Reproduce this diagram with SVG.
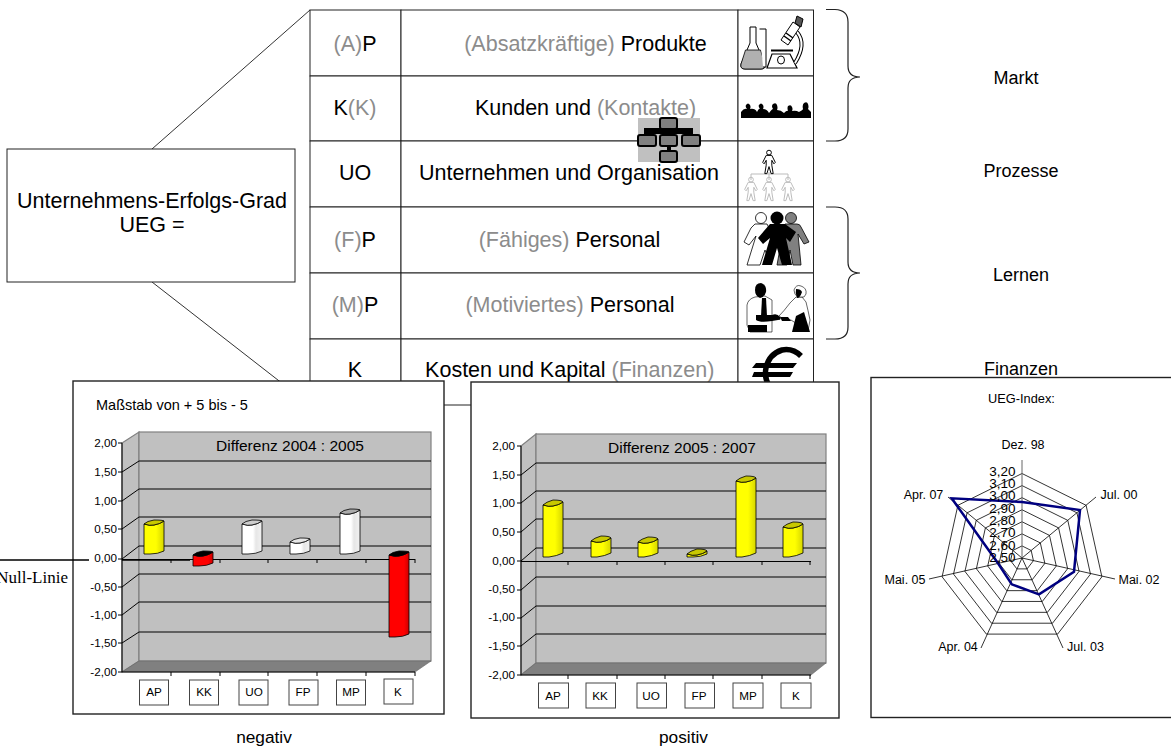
<svg xmlns="http://www.w3.org/2000/svg" xmlns:xlink="http://www.w3.org/1999/xlink" width="1171" height="747" viewBox="0 0 1171 747">
<style>
text{font-family:"Liberation Sans",Arial,sans-serif;fill:#000}
.m{text-anchor:middle}
.e{text-anchor:end}
.row{font-size:21.500px;text-anchor:middle}
.g{fill:#8c8c8c}
.side{font-size:18px;text-anchor:middle}
.cap{font-size:17.300px;text-anchor:middle}
.cell{fill:#fff;stroke:#222;stroke-width:1}
.br{fill:none;stroke:#222;stroke-width:1.2}
.frame{fill:#fff;stroke:#222;stroke-width:1.4}
.wall{fill:#c0c0c0;stroke:#808080;stroke-width:1.2}
.floor{fill:#808080;stroke:#666;stroke-width:.6}
.gl{stroke:#000;stroke-width:1;fill:none}
.ax{stroke:#000;stroke-width:1;fill:none}
.t{font-size:11.7px;text-anchor:end}
.d{font-size:15.5px;text-anchor:middle}
.lb{fill:#fff;stroke:#444;stroke-width:1}
.lt{font-size:11.7px;text-anchor:middle}
.bs{stroke:#000;stroke-width:.8}
.rad{fill:none;stroke:#000;stroke-width:.8;vector-effect:non-scaling-stroke}
.rl{font-size:12.5px;text-anchor:middle}
.rs{font-size:13.500px;text-anchor:end}
.oc{fill:#808080;stroke:#000;stroke-width:2}
</style>
<defs>
<linearGradient id="gy"><stop offset="0" stop-color="#ffff00"/><stop offset=".6" stop-color="#ffff00"/><stop offset="1" stop-color="#d6d600"/></linearGradient>
<linearGradient id="gw"><stop offset="0" stop-color="#ffffff"/><stop offset=".55" stop-color="#ffffff"/><stop offset=".7" stop-color="#e6e6e6"/><stop offset="1" stop-color="#f2f2f2"/></linearGradient>
<linearGradient id="gr"><stop offset="0" stop-color="#ff0000"/><stop offset=".75" stop-color="#ff0000"/><stop offset="1" stop-color="#cc0000"/></linearGradient>
<polygon id="ring" class="rad" points="0,-84.5 64.1,-52.7 79.9,18.8 35.6,76.1 -35.6,76.1 -79.9,18.8 -64.1,-52.7"/>
<g id="person"><circle cx="0" cy="-6" r="1.7" fill="none" stroke-width=".7"/><path d="M-2,-4 H2 L4.500,1 L3.500,2 L2,-.5 V3 L3,9 H1.500 L0,4 L-1.500,9 H-3 L-2,3 V-.5 L-3.500,2 L-4.500,1Z" fill="none" stroke-width=".7"/></g>
</defs>

<g id="connectors" fill="none" stroke="#333" stroke-width="1">
<path d="M152,149 L310,10"/>
<path d="M152,282 L310,405"/>
<path d="M310,404.500 H814"/>
</g>

<g id="node-ueg">
<rect x="7" y="149" width="288" height="133" fill="#fff" stroke="#222" stroke-width="1"/>
<text x="152" y="208" class="row">Unternehmens-Erfolgs-Grad</text>
<text x="152" y="232" class="row">UEG =</text>
</g>

<g id="node-ap">
<rect class="cell" x="310" y="10" width="91" height="66"/><rect class="cell" x="401" y="10" width="337" height="66"/><rect class="cell" x="738" y="10" width="75.500" height="66"/>
<text x="355" y="51" class="row"><tspan class="g">(A)</tspan>P</text>
<text x="585.500" y="51" class="row"><tspan class="g">(Absatzkräftige)</tspan> Produkte</text>
<path d="M750,27 H756 V43 L765,64 Q766,69 761,69 H745 Q740,69 741,64 L750,43Z" fill="#fff" stroke="#000" stroke-width="1"/>
<path d="M745.500,50 H760.500 L765,64 Q766,69 761,69 H745 Q740,69 741,64Z" fill="#b0b0b0" stroke="#000" stroke-width=".8"/>
<path d="M759.500,29 H766 V67 H763" fill="#fff" stroke="#000" stroke-width="1"/>
<path d="M767,68 L772,54 H790 L797,68Z" fill="#fff" stroke="#000" stroke-width="1.200"/>
<path d="M771,50.500 H793" stroke="#000" stroke-width="2" fill="none"/>
<ellipse cx="781" cy="60" rx="3.500" ry="4" fill="#fff" stroke="#000"/>
<path d="M797,32 Q807,44 795,63" fill="none" stroke="#000" stroke-width="4"/>
<path d="M797,32 Q807,44 795,63" fill="none" stroke="#fff" stroke-width="2"/>
<path d="M781,40 L793,22 L800,27 L788,45Z" fill="#fff" stroke="#000" stroke-width="1"/>
<path d="M784,36 L791,41 M786,33 L793,38" stroke="#000" stroke-width="1.500"/>
<path d="M795,23 L797,16 L803,19 L801,27Z" fill="#555" stroke="#000"/>
</g>

<g id="node-kk">
<rect class="cell" x="310" y="76" width="91" height="65"/><rect class="cell" x="401" y="76" width="337" height="65"/><rect class="cell" x="738" y="76" width="75.500" height="65"/>
<text x="355" y="115" class="row">K<tspan class="g">(K)</tspan></text>
<text x="585.500" y="115" class="row">Kunden und <tspan class="g">(Kontakte)</tspan></text>
<path d="M741,118 V112 Q744,108 747,109 Q745,107 746,105 Q748,102 750,105 Q751,107 750,109 Q755,108 757,112 Q759,108 760,109 Q758,106 759,105 Q761,102 763,105 Q764,107 763,109 Q767,109 769,113 Q772,109 773,109 Q771,106 773,104 Q776,102 777,105 Q778,108 777,110 Q781,110 784,113 Q787,110 788,111 Q787,108 788,106 Q791,104 792,107 Q793,109 792,111 Q796,110 799,112 Q803,110 803,109 Q802,105 804,103 Q807,101 808,104 Q809,107 808,109 L811,112 V118Z" fill="#000"/>
</g>

<g id="node-uo">
<rect class="cell" x="310" y="141" width="91" height="66"/><rect class="cell" x="401" y="141" width="337" height="66"/><rect class="cell" x="738" y="141" width="75.500" height="66"/>
<text x="355" y="180" class="row">UO</text>
<text x="569" y="180" class="row">Unternehmen und Organisation</text>
<path d="M751,180 V174 H788 V180 M769,172 V180" fill="none" stroke="#bbb"/>
<use href="#person" transform="translate(769,161) scale(1.400)" stroke="#000"/>
<use href="#person" transform="translate(751,188) scale(1.400)" stroke="#bbb"/>
<use href="#person" transform="translate(769,188) scale(1.400)" stroke="#bbb"/>
<use href="#person" transform="translate(788,188) scale(1.400)" stroke="#bbb"/>
</g>

<g id="node-fp">
<rect class="cell" x="310" y="207" width="91" height="66"/><rect class="cell" x="401" y="207" width="337" height="66"/><rect class="cell" x="738" y="207" width="75.500" height="66"/>
<text x="355" y="246.500" class="row"><tspan class="g">(F)</tspan>P</text>
<text x="569.500" y="246.500" class="row"><tspan class="g">(Fähiges)</tspan> Personal</text>
<circle cx="791" cy="218" r="5.500" fill="#808080" stroke="#000" stroke-width=".8"/>
<path d="M785,224 H797 Q800,224 801,227 L809,242 L804,244 L798,234 L801,265 H793 L790,250 L787,265 H777 L783,232Z" fill="#808080" stroke="#000" stroke-width=".8"/>
<circle cx="761" cy="218" r="5.500" fill="#fff" stroke="#000" stroke-width=".8"/>
<path d="M755,224 H767 L775,240 L770,262 L765,250 L760,265 H747 L756,236 L749,245 L744,242 L751,228Z" fill="#fff" stroke="#000" stroke-width=".8"/>
<circle cx="777" cy="218" r="6.500" fill="#000"/>
<path d="M770,224 H785 L796,232 L790,242 L786,238 L792,265 H782 L777,248 L772,265 H762 L770,238 L763,244 L758,238Z" fill="#000"/>
</g>

<g id="node-mp">
<rect class="cell" x="310" y="273" width="91" height="66"/><rect class="cell" x="401" y="273" width="337" height="66"/><rect class="cell" x="738" y="273" width="75.500" height="66"/>
<text x="355" y="312" class="row"><tspan class="g">(M)</tspan>P</text>
<text x="570" y="312" class="row"><tspan class="g">(Motiviertes)</tspan> Personal</text>
<path d="M755,297 Q748,299 747,305 L747,325 L750,332 H772 L772,300 L765,296Z" fill="#fff" stroke="#000" stroke-width=".6"/>
<path d="M755,290 Q755,283 761,283 Q767,285 766,292 Q765,297 760,298 Q755,296 755,290Z" fill="#000"/>
<path d="M762,298 L766,298 L767,316 L764,320 L761,316Z" fill="#000"/>
<path d="M756,315 H772 Q777,313 780,317 Q782,320 778,320 L772,321 Q760,323 756,320Z" fill="#000"/>
<path d="M748,325 H767 V332 H748Z" fill="#000"/>
<path d="M796,297 L790,303 Q784,311 779,316 L785,320 L791,320 L808,331 L810,320 Q808,310 806,302 L802,297Z" fill="#fff" stroke="#000" stroke-width=".6"/>
<path d="M794,290 Q796,284 801,286 Q807,288 806,294 L804,297 H798 Q794,295 794,290Z" fill="#fff" stroke="#000" stroke-width=".6"/>
<path d="M796,289 Q801,289 802,292 Q800,298 797,298 Q795,293 796,289Z" fill="#000"/>
<path d="M796,316 L804,312 L810,332 H792 Z" fill="#000"/>
<path d="M780,317 H788 L791,321 H782Z" fill="#000"/>
</g>

<g id="node-k">
<rect class="cell" x="310" y="339" width="91" height="66"/><rect class="cell" x="401" y="339" width="337" height="66"/><rect class="cell" x="738" y="339" width="75.500" height="66"/>
<text x="355" y="377" class="row">K</text>
<text x="569.700" y="377" class="row">Kosten und Kapital <tspan class="g">(Finanzen)</tspan></text>
<path d="M801,356 Q793,348 782,350 Q769,354 766,368 Q764,377 769,386" fill="none" stroke="#000" stroke-width="5.500"/>
<path d="M756,363 H797 L793,368 H752Z M754,372 H793 L790,377 H752Z" fill="#000"/>
</g>

<g id="brace-markt"><path class="br" d="M826,9.500 H835 Q848,10 848,22 V66 Q848,77 860,77 Q848,77 848,88 V129 Q848,141 835,141 H826"/></g>
<g id="brace-lernen"><path class="br" d="M826,207 H835 Q848,207 848,219 V262 Q848,273 860,273 Q848,273 848,284 V327 Q848,339 835,339 H826"/></g>
<g id="labels-right">
<text x="1016" y="84" class="side">Markt</text>
<text x="1021" y="177" class="side">Prozesse</text>
<text x="1021" y="281" class="side">Lernen</text>
<text x="1021" y="375" class="side">Finanzen</text>
</g>

<g id="node-org-icon">
<rect x="638" y="118" width="62" height="44" fill="#c0c0c0"/>
<path d="M644,128 H693 V134 H644Z M667,146 H671 V152 H667Z" fill="#000"/>
<rect class="oc" x="660" y="118" width="17" height="11" rx="2"/>
<rect class="oc" x="638" y="135" width="18" height="11" rx="2"/>
<rect class="oc" x="660" y="135" width="17" height="11" rx="2"/>
<rect class="oc" x="682" y="135" width="18" height="11" rx="2"/>
<rect class="oc" x="660" y="151" width="17" height="11" rx="2"/>
</g>

<g id="chart-negativ">
<rect class="frame" x="73" y="381" width="371" height="333"/>
<text x="96" y="410" style="font-size:14.500px">Maßstab von + 5 bis - 5</text>
<path class="wall" d="M122,443 L139,432 V661 L122,672Z"/>
<rect class="wall" x="139" y="432" width="292" height="229"/>
<path class="floor" d="M122,672 L139,661 H431 L415,672Z"/>
<path class="gl" d="M139,461 H431 M139,489 H431 M139,517 H431 M139,546 H431 M139,574 H431 M139,602 H431 M139,632 H431"/>
<path class="gl" d="M122,472 L139,461 M122,501 L139,489 M122,529 L139,517 M122,559 L139,546 M122,587 L139,574 M122,615 L139,602 M122,643 L139,632"/>
<path class="ax" d="M122,443 V672 H415 M118,443 H122 M118,472 H122 M118,501 H122 M118,529 H122 M118,559 H122 M118,587 H122 M118,615 H122 M118,643 H122 M118,672 H122 M171,672 V676 M220,672 V676 M268,672 V676 M317,672 V676 M366,672 V676 M415,672 V676"/>
<path d="M122,559.500 H415 M171,559 V563 M220,559 V563 M268,559 V563 M317,559 V563 M366,559 V563 M415,559 V563" class="ax"/>
<path d="M0,560 H89 M122,560 H190" stroke="#000" stroke-width="1.500" fill="none"/>
<text x="68" y="583" class="e" style="font-family:'Liberation Serif',serif;font-size:17px">Null-Linie</text>
<g class="t">
<text x="117" y="447">2,00</text><text x="117" y="476">1,50</text><text x="117" y="505">1,00</text><text x="117" y="533">0,50</text><text x="117" y="562">0,00</text><text x="117" y="591">-0,50</text><text x="117" y="619">-1,00</text><text x="117" y="647">-1,50</text><text x="117" y="676">-2,00</text>
</g>
<text x="290" y="451" class="d">Differenz 2004 : 2005</text>
<path class="bs" fill="url(#gy)" d="M144,524 Q150,526 154,525 Q160,524 164,521 V551 Q158,554 150,554 H144Z"/>
<path class="bs" fill="#c8c800" d="M144,524 Q147,521 154,520 Q163,520 164,521 Q160,524 154,525 Q150,526 144,524Z"/>
<path class="bs" fill="url(#gr)" d="M193,555 Q199,557 203,556 Q209,555 213,552 V563 Q207,566 199,566 H193Z"/>
<path class="bs" fill="#000" d="M193,555 Q196,552 203,551 Q212,551 213,552 Q209,555 203,556 Q199,557 193,555Z"/>
<path class="bs" fill="url(#gw)" d="M242,524 Q248,526 252,525 Q258,524 262,521 V551 Q256,554 248,554 H242Z"/>
<path class="bs" fill="#ccc" d="M242,524 Q245,521 252,520 Q261,520 262,521 Q258,524 252,525 Q248,526 242,524Z"/>
<path class="bs" fill="url(#gw)" d="M290,542 Q296,544 300,543 Q306,542 310,539 V551 Q304,554 296,554 H290Z"/>
<path class="bs" fill="#e6e6e6" d="M290,542 Q293,539 300,538 Q309,538 310,539 Q306,542 300,543 Q296,544 290,542Z"/>
<path class="bs" fill="url(#gw)" d="M340,513 Q346,515 350,514 Q356,513 360,510 V551 Q354,554 346,554 H340Z"/>
<path class="bs" fill="#aaa" d="M340,513 Q343,510 350,509 Q359,509 360,510 Q356,513 350,514 Q346,515 340,513Z"/>
<path class="bs" fill="url(#gr)" d="M389,555 Q395,557 399,556 Q405,555 409,552 V634 Q403,637 395,637 H389Z"/>
<path class="bs" fill="#000" d="M389,555 Q392,552 399,551 Q408,551 409,552 Q405,555 399,556 Q395,557 389,555Z"/>
<rect class="lb" x="139.500" y="680" width="29" height="25"/><text x="154" y="696" class="lt">AP</text>
<rect class="lb" x="189.500" y="680" width="29" height="25"/><text x="204" y="696" class="lt">KK</text>
<rect class="lb" x="239" y="680" width="29" height="25"/><text x="254" y="696" class="lt">UO</text>
<rect class="lb" x="289" y="680" width="29" height="25"/><text x="303" y="696" class="lt">FP</text>
<rect class="lb" x="336.500" y="680" width="29" height="25"/><text x="351" y="696" class="lt">MP</text>
<rect class="lb" x="384" y="679" width="29" height="25"/><text x="398" y="696" class="lt">K</text>
</g>

<g id="chart-positiv">
<rect class="frame" x="471" y="382" width="368" height="336"/>
<path class="wall" d="M521,446 L536,434 V663 L521,675Z"/>
<rect class="wall" x="536" y="434" width="290" height="229"/>
<path class="floor" d="M521,675 L536,663 H826 L811,675Z"/>
<path class="gl" d="M536,463 H826 M536,491 H826 M536,519 H826 M536,548 H826 M536,577 H826 M536,606 H826 M536,634 H826"/>
<path class="gl" d="M521,475 L536,463 M521,503 L536,491 M521,532 L536,519 M521,561 L536,548 M521,590 L536,577 M521,618 L536,606 M521,646 L536,634"/>
<path class="ax" d="M521,446 V675 H811 M517,446 H521 M517,475 H521 M517,503 H521 M517,532 H521 M517,561 H521 M517,590 H521 M517,618 H521 M517,646 H521 M517,675 H521 M568,675 V679 M617,675 V679 M665,675 V679 M713,675 V679 M762,675 V679 M810,675 V679"/>
<path class="ax" d="M521,561.500 H811 M568,561 V565 M617,561 V565 M665,561 V565 M713,561 V565 M762,561 V565 M810,561 V565"/>
<g class="t">
<text x="515" y="450">2,00</text><text x="515" y="479">1,50</text><text x="515" y="507">1,00</text><text x="515" y="536">0,50</text><text x="515" y="565">0,00</text><text x="515" y="593">-0,50</text><text x="515" y="621">-1,00</text><text x="515" y="650">-1,50</text><text x="515" y="679">-2,00</text>
</g>
<text x="682" y="453" class="d">Differenz 2005 : 2007</text>
<path class="bs" fill="url(#gy)" d="M543,505 Q549,507 553,506 Q559,505 563,502 V553 Q557,556 549,557 H543Z"/>
<path class="bs" fill="#c8c800" d="M543,505 Q546,502 553,500 Q562,500 563,502 Q559,505 553,506 Q549,507 543,505Z"/>
<path class="bs" fill="url(#gy)" d="M591,541 Q597,543 601,542 Q607,541 611,538 V553 Q605,556 597,557 H591Z"/>
<path class="bs" fill="#c8c800" d="M591,541 Q594,538 601,536 Q610,536 611,538 Q607,541 601,542 Q597,543 591,541Z"/>
<path class="bs" fill="url(#gy)" d="M638,542 Q644,544 648,543 Q654,542 658,539 V553 Q652,556 644,557 H638Z"/>
<path class="bs" fill="#c8c800" d="M638,542 Q641,539 648,537 Q657,537 658,539 Q654,542 648,543 Q644,544 638,542Z"/>
<path class="bs" fill="url(#gy)" d="M687,554 Q693,556 697,555 Q703,554 707,551 V554 Q701,557 693,557 H687Z"/>
<path class="bs" fill="#c8c800" d="M687,554 Q690,551 697,549 Q706,549 707,551 Q703,554 697,555 Q693,556 687,554Z"/>
<path class="bs" fill="url(#gy)" d="M736,481 Q742,483 746,482 Q752,481 756,478 V553 Q750,556 742,557 H736Z"/>
<path class="bs" fill="#c8c800" d="M736,481 Q739,478 746,476 Q755,476 756,478 Q752,481 746,482 Q742,483 736,481Z"/>
<path class="bs" fill="url(#gy)" d="M783,527 Q789,529 793,528 Q799,527 803,524 V553 Q797,556 789,557 H783Z"/>
<path class="bs" fill="#c8c800" d="M783,527 Q786,524 793,522 Q802,522 803,524 Q799,527 793,528 Q789,529 783,527Z"/>
<rect class="lb" x="538.500" y="683" width="30" height="25"/><text x="553" y="700" class="lt">AP</text>
<rect class="lb" x="586" y="683" width="29.500" height="25"/><text x="600" y="700" class="lt">KK</text>
<rect class="lb" x="637" y="683" width="29.500" height="25"/><text x="651" y="700" class="lt">UO</text>
<rect class="lb" x="685" y="683" width="29.500" height="25"/><text x="699" y="700" class="lt">FP</text>
<rect class="lb" x="733" y="683" width="30" height="25"/><text x="748" y="700" class="lt">MP</text>
<rect class="lb" x="781" y="683" width="30" height="25"/><text x="796" y="700" class="lt">K</text>
</g>

<g id="chart-radar">
<rect class="frame" x="871" y="377.500" width="302" height="340"/>
<text x="1021.500" y="403" class="m" style="font-size:12.800px">UEG-Index:</text>
<g transform="translate(1022,558)">
<use href="#ring"/>
<use href="#ring" transform="scale(.857)"/>
<use href="#ring" transform="scale(.714)"/>
<use href="#ring" transform="scale(.571)"/>
<use href="#ring" transform="scale(.429)"/>
<use href="#ring" transform="scale(.286)"/>
<use href="#ring" transform="scale(.143)"/>
<path d="M0,0 L74,-61 M0,0 L93,21 M0,0 L41,90 M0,0 L-41,90 M0,0 L-93,21 M0,0 L-74,-61" fill="none" stroke="#000" stroke-width=".8"/>
<path d="M0,0 V-98" fill="none" stroke="#666" stroke-width="1"/>
</g>
<polygon points="1022,502 1080,510 1074,571.700 1039,594.300 1011.700,584.300 998,563.300 951.700,498.300" fill="none" stroke="#000080" stroke-width="2.500"/>
<g class="rs"><text x="1015.500" y="476">3,20</text><text x="1015.500" y="488">3,10</text><text x="1015.500" y="500">3,00</text><text x="1015.500" y="513">2,90</text><text x="1015.500" y="525">2,80</text><text x="1015.500" y="537">2,70</text><text x="1015.500" y="550">2,60</text><text x="1015.500" y="562">2,50</text></g>
<g class="rl"><text x="1023" y="449">Dez. 98</text><text x="1119" y="499">Jul. 00</text><text x="1139" y="584">Mai. 02</text><text x="1085.500" y="650.500">Jul. 03</text><text x="958" y="650.500">Apr. 04</text><text x="905" y="584">Mai. 05</text><text x="923.500" y="499">Apr. 07</text></g>
</g>

<g id="captions">
<text x="264" y="743" class="cap">negativ</text>
<text x="683.500" y="743" class="cap">positiv</text>
</g>
</svg>
